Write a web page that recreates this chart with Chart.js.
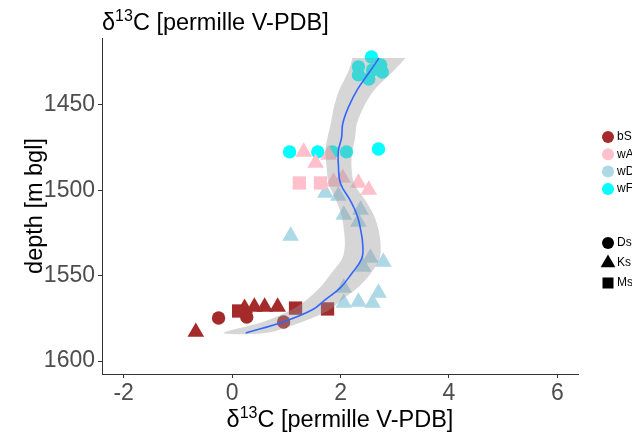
<!DOCTYPE html>
<html>
<head>
<meta charset="utf-8">
<script src="https://cdn.jsdelivr.net/npm/chart.js@4/dist/chart.umd.min.js"></script>
<style>
  html, body { margin: 0; padding: 0; background: #fff; }
</style>
</head>
<body>
<canvas id="chart" width="632" height="441"></canvas>
<script>
// tick labels
const xTicks = [-2, 0, 2, 4, 6];
const depthTicks = [1450, 1500, 1550, 1600];

// groups (colour legend) and lithologies (shape legend)
const groups = ["bS", "wA", "wD", "wF"];
const lithologies = ["Ds", "Ks", "Ms"];

// measured d13C values per group
const bsX = [-0.67, -0.25, 0.12, 0.27, 0.23, 0.41, 0.60, 0.84, 0.95, 1.17, 1.76];
const bsDepth = [1583.0, 1574.8, 1570.7, 1574.2, 1569.0, 1568.3, 1568.3, 1568.3, 1577.1, 1569.0, 1569.5];
const bsLith = ["Ks", "Ds", "Ms", "Ds", "Ks", "Ks", "Ks", "Ks", "Ds", "Ms", "Ms"];

const waX = [1.32, 1.54, 1.78, 1.24, 1.63, 1.87, 2.04, 2.33, 2.52];
const waDepth = [1477.5, 1484.0, 1479.3, 1495.7, 1495.7, 1495.1, 1492.8, 1495.7, 1499.8];
const waLith = ["Ks", "Ks", "Ks", "Ms", "Ms", "Ks", "Ks", "Ks", "Ks"];

const wdX = [1.72, 1.96, 2.37, 2.06, 2.33, 1.08, 2.55, 2.79, 2.42, 2.06, 2.70, 2.06, 2.33, 2.59];
const wdDepth = [1501.6, 1503.3, 1511.5, 1514.4, 1518.5, 1526.7, 1539.6, 1542.0, 1544.9, 1557.2, 1560.1, 1566.0, 1565.4, 1566.0];
const wdLith = ["Ks", "Ks", "Ks", "Ks", "Ks", "Ks", "Ks", "Ks", "Ks", "Ks", "Ks", "Ks", "Ks", "Ks"];

const wfX = [1.06, 1.58, 1.85, 2.11, 2.70, 2.57, 2.33, 2.33, 2.52, 2.74, 2.77, 2.59];
const wfDepth = [1477.5, 1477.5, 1477.5, 1477.5, 1475.8, 1421.9, 1427.7, 1432.4, 1434.8, 1426.6, 1430.7, 1429.5];
const wfLith = ["Ds", "Ds", "Ds", "Ds", "Ds", "Ds", "Ds", "Ds", "Ds", "Ds", "Ds", "Ds"];

// loess smooth and its confidence band
const smoothDepth = [1422.5, 1430, 1441, 1451, 1461, 1469, 1477, 1485, 1496, 1506, 1515, 1523, 1532, 1540, 1549, 1557, 1564, 1570, 1577, 1583.6];
const smoothX = [2.71, 2.55, 2.31, 2.15, 2.04, 2.02, 1.96, 1.96, 2.00, 2.18, 2.31, 2.37, 2.41, 2.39, 2.20, 2.00, 1.72, 1.48, 0.95, 0.25];
const bandLo = [2.22, 2.15, 1.98, 1.88, 1.82, 1.76, 1.72, 1.74, 1.78, 1.92, 2.02, 2.06, 2.08, 2.03, 1.82, 1.62, 1.38, 1.10, 0.58, -0.16];
const bandHi = [3.20, 2.98, 2.63, 2.43, 2.30, 2.27, 2.22, 2.20, 2.25, 2.46, 2.62, 2.70, 2.74, 2.72, 2.55, 2.32, 2.03, 1.80, 1.30, 0.62];

const groupColors = ["#A52A2A", "#FFC0CB", "#ADD8E6", "#00FFFF"];
const lithStyle = { Ds: "circle", Ks: "triangle", Ms: "rect" };
const lithRadius = { Ds: 6.7, Ks: 9.6, Ms: 9.4 };

function pointsDataset(xs, depths, liths, gi) {
  return {
    label: groups[gi],
    data: xs.map((x, i) => ({ x, y: depths[i] })),
    pointStyle: liths.map(l => lithStyle[l]),
    pointRadius: liths.map(l => lithRadius[l]),
    backgroundColor: groupColors[gi],
    borderColor: groupColors[gi],
    pointBorderWidth: 0,
    order: 2
  };
}

const bandDepth = smoothDepth.concat(smoothDepth.slice().reverse());
const bandX = bandLo.concat(bandHi.slice().reverse());

const TEXT_FONT = "'Liberation Sans', Arial, sans-serif";

// d13C title with a real superscript
function drawDeltaTitle(ctx, x, baseline, center) {
  const big = "23.5px " + TEXT_FONT;
  const small = "16px " + TEXT_FONT;
  ctx.save();
  ctx.fillStyle = "#000";
  ctx.textBaseline = "alphabetic";
  ctx.textAlign = "left";
  ctx.font = big;
  const w1 = ctx.measureText("\u03b4").width;
  const w3 = ctx.measureText("C [permille V-PDB]").width;
  ctx.font = small;
  const w2 = ctx.measureText("13").width;
  let left = center ? x - (w1 + w2 + w3) / 2 : x;
  ctx.font = big;
  ctx.fillText("\u03b4", left, baseline);
  ctx.font = small;
  ctx.fillText("13", left + w1, baseline - 9);
  ctx.font = big;
  ctx.fillText("C [permille V-PDB]", left + w1 + w2, baseline);
  ctx.restore();
}

function drawKey(ctx, shape, x, y, color) {
  ctx.fillStyle = color;
  ctx.beginPath();
  if (shape === "circle") {
    ctx.arc(x, y, 6, 0, Math.PI * 2);
  } else if (shape === "triangle") {
    const r = 8.5;
    ctx.moveTo(x, y - r);
    ctx.lineTo(x + r * 0.866, y + r / 2);
    ctx.lineTo(x - r * 0.866, y + r / 2);
    ctx.closePath();
  } else {
    ctx.rect(x - 5.5, y - 5.5, 11, 11);
  }
  ctx.fill();
}

const extras = {
  id: "extras",
  afterDraw(chart) {
    const ctx = chart.ctx;
    const area = chart.chartArea;
    drawDeltaTitle(ctx, area.left, 30, false);
    drawDeltaTitle(ctx, (area.left + area.right) / 2, 427, true);

    ctx.save();
    ctx.font = "12px " + TEXT_FONT;
    ctx.textBaseline = "middle";
    groups.forEach((g, i) => {
      const y = 137 + i * 17.3;
      drawKey(ctx, "circle", 608, y, groupColors[i]);
      ctx.fillStyle = "#000";
      ctx.fillText(g, 617, y);
    });
    lithologies.forEach((l, i) => {
      const y = 243 + i * 20;
      drawKey(ctx, lithStyle[l], 608, y, "#000");
      ctx.fillStyle = "#000";
      ctx.fillText(l, 617, y);
    });
    ctx.restore();
  }
};

new Chart(document.getElementById("chart"), {
  type: "scatter",
  data: {
    datasets: [
      {
        label: "smooth",
        data: smoothX.map((x, i) => ({ x, y: smoothDepth[i] })),
        showLine: true,
        borderColor: "#3366FF",
        borderWidth: 1.6,
        pointRadius: 0,
        tension: 0.4,
        fill: false,
        order: 0
      },
      {
        label: "band",
        data: bandX.map((x, i) => ({ x, y: bandDepth[i] })),
        showLine: true,
        borderWidth: 0,
        borderColor: "rgba(0,0,0,0)",
        backgroundColor: "rgba(153,153,153,0.4)",
        pointRadius: 0,
        tension: 0.3,
        fill: "shape",
        order: 1
      },
      pointsDataset(bsX, bsDepth, bsLith, 0),
      pointsDataset(waX, waDepth, waLith, 1),
      pointsDataset(wdX, wdDepth, wdLith, 2),
      pointsDataset(wfX, wfDepth, wfLith, 3)
    ]
  },
  options: {
    responsive: false,
    animation: false,
    events: [],
    layout: { padding: { top: 38, right: 54, bottom: 0, left: 0 } },
    plugins: {
      legend: { display: false },
      tooltip: { enabled: false }
    },
    scales: {
      x: {
        type: "linear",
        min: -2.4,
        max: 6.38,
        afterBuildTicks: s => { s.ticks = xTicks.map(v => ({ value: v })); },
        afterFit: s => { s.height = 67; },
        ticks: {
          color: "#4d4d4d",
          font: { size: 23, family: TEXT_FONT },
          padding: 2,
          callback: v => String(v)
        },
        grid: { drawOnChartArea: false, tickLength: 4, tickColor: "#333" },
        border: { display: true, color: "#333", width: 1 }
      },
      y: {
        type: "linear",
        reverse: true,
        min: 1410.8,
        max: 1607.6,
        afterBuildTicks: s => { s.ticks = depthTicks.map(v => ({ value: v })); },
        afterFit: s => { s.width = 102; },
        ticks: {
          color: "#4d4d4d",
          font: { size: 23, family: TEXT_FONT },
          padding: 3,
          callback: v => String(v)
        },
        grid: { drawOnChartArea: false, tickLength: 4, tickColor: "#333" },
        border: { display: true, color: "#333", width: 1 },
        title: {
          display: true,
          text: "depth [m bgl]",
          color: "#000",
          font: { size: 23.5, family: TEXT_FONT },
          padding: { top: 21, bottom: 0 }
        }
      }
    }
  },
  plugins: [extras]
});
</script>
</body>
</html>
